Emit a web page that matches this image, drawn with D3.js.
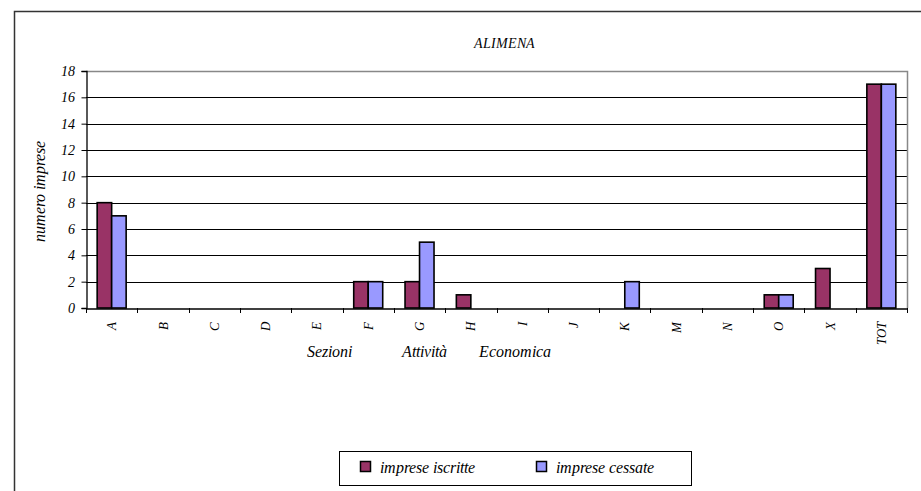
<!DOCTYPE html>
<html>
<head>
<meta charset="utf-8">
<script src="https://cdn.jsdelivr.net/npm/d3@7"></script>
<style>
    @font-face {
        font-family: 'ChartSerif';
        font-style: italic;
        src: local('Liberation Serif Italic'), local('LiberationSerif-Italic'), local('Tinos Italic'), local('DejaVu Serif Italic');
    }
</style>
</head>
<body style="margin:0">
<svg id="chart" width="921" height="491"></svg>
<script>
// data
let categories = ['A', 'B', 'C', 'D', 'E', 'F', 'G', 'H', 'I', 'J', 'K', 'M', 'N', 'O', 'X', 'TOT'];
let iscritte = [8, 0, 0, 0, 0, 2, 2, 1, 0, 0, 0, 0, 0, 1, 3, 17];
let cessate = [7, 0, 0, 0, 0, 2, 5, 0, 0, 0, 2, 0, 0, 1, 0, 17];
let seriesNames = ['imprese iscritte', 'imprese cessate'];
let seriesColors = ['#993366', '#9999ff'];
let yTicks = [0, 2, 4, 6, 8, 10, 12, 14, 16, 18];

let width = 921;
let height = 491;
let plot = {left: 86, top: 71, right: 907, bottom: 308};

let svg = d3.select('#chart');

// outer frame
svg.append('path')
    .attr('d', `M14.5,${height + 2} L14.5,11.5 L${width + 2},11.5`)
    .attr('fill', 'none')
    .attr('stroke', '#333')
    .attr('stroke-width', 1.5);

let x = d3.scaleBand()
    .domain(categories)
    .range([plot.left, plot.right]);

let y = d3.scaleLinear()
    .domain([0, 18])
    .range([plot.bottom, plot.top]);

let pair = x.bandwidth() * 0.565;
let x1 = d3.scaleBand()
    .domain([0, 1])
    .range([(x.bandwidth() - pair) / 2, (x.bandwidth() + pair) / 2]);

// gridlines
svg.append('g')
    .selectAll('line')
    .data(yTicks.filter(function (d) { return d > 0 && d < 18; }))
    .enter().append('line')
    .attr('x1', plot.left)
    .attr('x2', plot.right)
    .attr('y1', function (d) { return Math.round(y(d)) + 0.5; })
    .attr('y2', function (d) { return Math.round(y(d)) + 0.5; })
    .attr('stroke', '#000')
    .attr('stroke-width', 1);

// plot area top / right border (grey)
svg.append('path')
    .attr('d', `M${plot.left},${plot.top + 0.5} L${plot.right + 0.5},${plot.top + 0.5} L${plot.right + 0.5},${plot.bottom}`)
    .attr('fill', 'none')
    .attr('stroke', '#888')
    .attr('stroke-width', 1.5);

// bars
let rows = categories.map(function (c, i) {
    return {cat: c, values: [iscritte[i], cessate[i]]};
});

let groups = svg.append('g').selectAll('g')
    .data(rows)
    .enter().append('g')
    .attr('transform', function (d) { return `translate(${x(d.cat)},0)`; });

groups.selectAll('rect')
    .data(function (d) {
        return d.values.map(function (v, k) { return {k: k, v: v}; }).filter(function (e) { return e.v > 0; });
    })
    .enter().append('rect')
    .attr('x', function (d) { return x1(d.k); })
    .attr('y', function (d) { return y(d.v); })
    .attr('width', x1.bandwidth())
    .attr('height', function (d) { return y(0) - y(d.v); })
    .attr('fill', function (d) { return seriesColors[d.k]; })
    .attr('stroke', '#000')
    .attr('stroke-width', 1.6);

function label(sel, size) {
    return sel.style('font-family', "'ChartSerif', 'Liberation Serif', 'Times New Roman', 'Tinos'")
        .style('font-style', 'italic')
        .style('font-size', size);
}

// y axis
let yAxis = svg.append('g')
    .attr('transform', `translate(${plot.left + 0.5},0)`)
    .call(d3.axisLeft(y).tickValues(yTicks).tickSize(5).tickPadding(7));
yAxis.attr('font-family', null);
yAxis.select('.domain').attr('stroke', '#000').attr('stroke-width', 1.3);
yAxis.selectAll('.tick line').attr('stroke', '#000');
label(yAxis.selectAll('text'), '14px');

// x axis
let xAxis = svg.append('g')
    .attr('transform', `translate(0,${plot.bottom + 0.5})`)
    .call(d3.axisBottom(x).tickSize(0).tickSizeOuter(0));
xAxis.attr('font-family', null);
xAxis.select('.domain').attr('stroke', '#000').attr('stroke-width', 1.3);
label(xAxis.selectAll('.tick text'), '13px')
    .attr('text-anchor', 'end')
    .attr('transform', 'rotate(-90)')
    .attr('x', -13)
    .attr('y', 0)
    .attr('dy', '0.35em');

// tick marks between categories
svg.append('g')
    .selectAll('line')
    .data(categories.concat(['end']))
    .enter().append('line')
    .attr('x1', function (d, i) { return Math.round(plot.left + i * x.bandwidth()) + 0.5; })
    .attr('x2', function (d, i) { return Math.round(plot.left + i * x.bandwidth()) + 0.5; })
    .attr('y1', plot.bottom)
    .attr('y2', plot.bottom + 5)
    .attr('stroke', '#000');

// titles
label(svg.append('text'), '14px')
    .attr('x', 504)
    .attr('y', 48)
    .attr('text-anchor', 'middle')
    .text('ALIMENA');

label(svg.append('text'), '16px')
    .attr('transform', 'translate(45,191) rotate(-90)')
    .attr('text-anchor', 'middle')
    .text('numero imprese');

// the axis title is spread out in the original, three pieces
let xTitle = ['Sezioni', 'Attività', 'Economica'];
let xTitleStart = [307, 402, 479];
xTitle.forEach(function (t, i) {
    label(svg.append('text'), '16px')
        .attr('x', xTitleStart[i])
        .attr('y', 357)
        .text(t);
});

// legend
let legend = svg.append('g');
legend.append('rect')
    .attr('x', 339.5)
    .attr('y', 451.5)
    .attr('width', 352)
    .attr('height', 34)
    .attr('fill', '#fff')
    .attr('stroke', '#000');

let legendX = [360, 536];
seriesNames.forEach(function (name, i) {
    legend.append('rect')
        .attr('x', legendX[i] + 0.5)
        .attr('y', 461.5)
        .attr('width', 10)
        .attr('height', 10)
        .attr('fill', seriesColors[i])
        .attr('stroke', '#000')
        .attr('stroke-width', 1.5);
    label(legend.append('text'), '16px')
        .attr('x', legendX[i] + 20)
        .attr('y', 473)
        .text(name);
});
</script>
</body>
</html>
